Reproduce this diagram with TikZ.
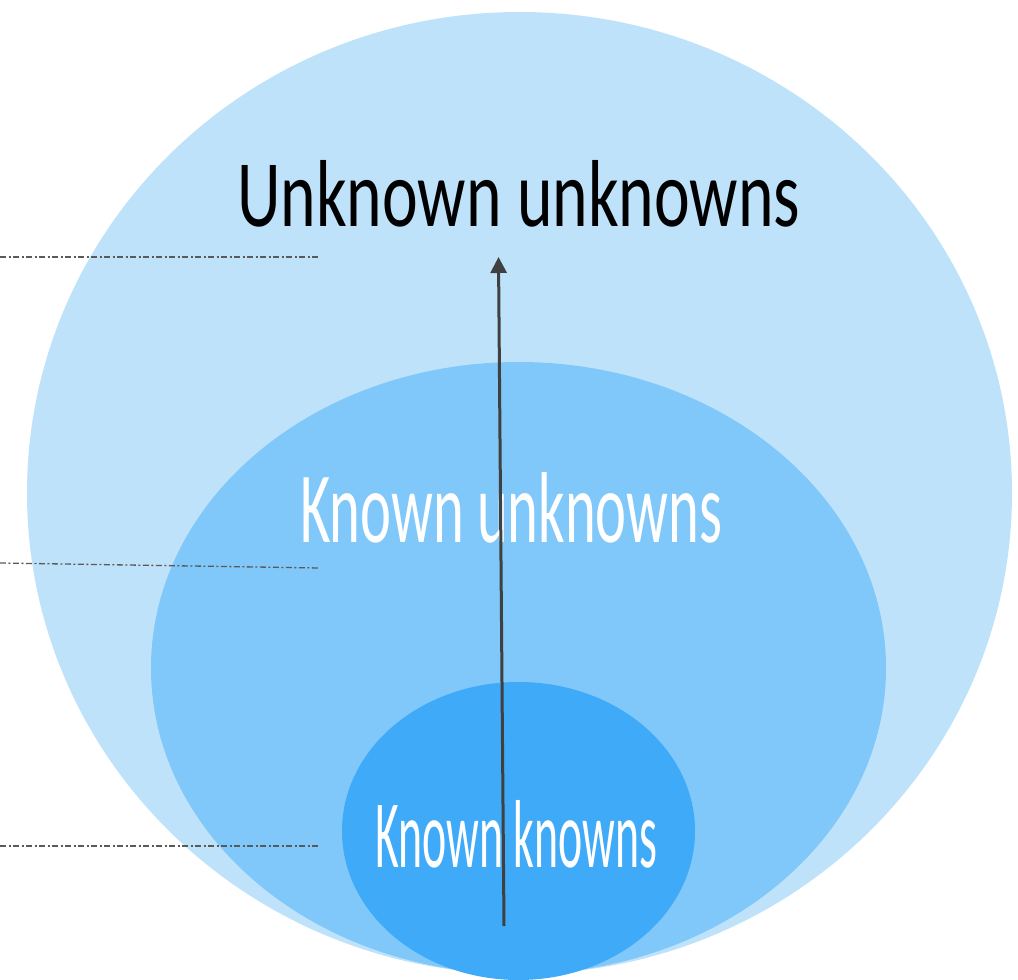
\documentclass[tikz,border=0pt]{standalone}
\usepackage{fontspec}
\setmainfont{Carlito}
\usetikzlibrary{shapes.geometric,arrows.meta}
\definecolor{outerblue}{RGB}{191,226,251}
\definecolor{middleblue}{RGB}{128,199,250}
\definecolor{innerblue}{RGB}{63,170,248}
\definecolor{arrowgray}{RGB}{64,64,64}
\definecolor{guidegray}{RGB}{90,90,90}
\tikzset{
  zone/.style={ellipse, inner sep=0pt, draw=none},
  label/.style={inner sep=0pt, anchor=north west},
  guide/.style={draw=guidegray, line width=1.3pt,
    dash pattern=on 6pt off 2.5pt on 2pt off 2.5pt},
  growth/.style={draw=arrowgray, line width=3pt,
    -{Triangle[length=16pt,width=16pt]}}
}
\begin{document}
\begin{tikzpicture}[x=1pt,y=-1pt]
\useasboundingbox (0,0) rectangle (1018,980);
% nested knowledge zones
\node[zone, fill=outerblue, minimum width=985pt, minimum height=962pt] (outer) at (519.5,493) {};
\node[zone, fill=middleblue, minimum width=735pt, minimum height=612pt] (middle) at (518.5,668) {};
\node[zone, fill=innerblue, minimum width=353pt, minimum height=298pt] (inner) at (518.5,831) {};
% labels
\node[label] (uu) at (237,160) {\resizebox{563pt}{66pt}{Unknown unknowns}};
\node[label, text=white] (ku) at (300,472) {\resizebox{422pt}{70pt}{Known unknowns}};
\node[label, text=white] (kk) at (375,800) {\resizebox{282pt}{67pt}{Known knowns}};
% level guides
\coordinate (g1a) at (0,257);   \coordinate (g1b) at (320,257);
\coordinate (g2a) at (0,563);   \coordinate (g2b) at (320,568);
\coordinate (g3a) at (0,846);   \coordinate (g3b) at (318,846);
\draw[guide] (g1a) -- (g1b);
\draw[guide] (g2a) -- (g2b);
\draw[guide] (g3a) -- (g3b);
% arrow from the core outwards
\coordinate (tail) at (504,926);
\coordinate (tip) at (498.5,257);
\draw[growth] (tail) -- (tip);
\end{tikzpicture}
\end{document}
